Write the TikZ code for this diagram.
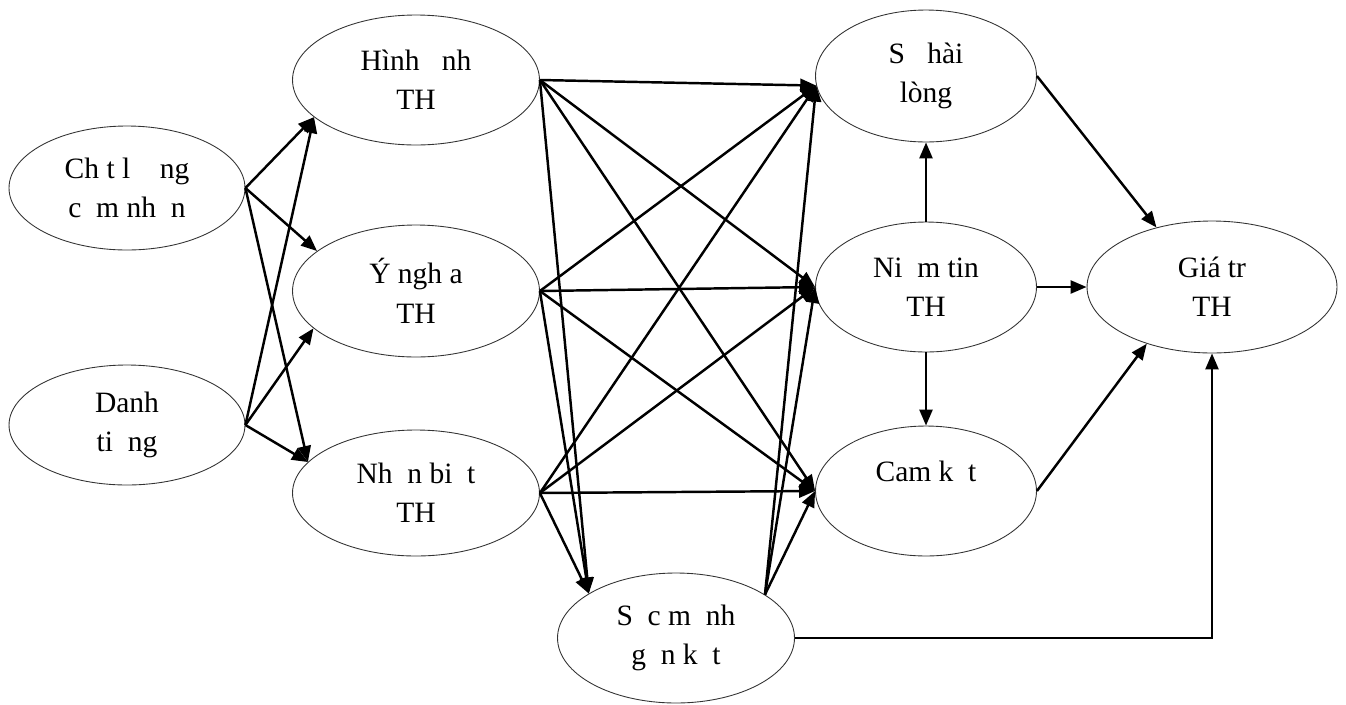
\documentclass[tikz,border=0pt]{standalone}
\usepackage{fontspec}
\setmainfont{Liberation Serif}
\usetikzlibrary{arrows.meta,shapes.geometric}

\begin{document}
\begin{tikzpicture}[x=0.02cm,y=-0.02cm,
  construct/.style={draw=black!80,ellipse,line width=0.5pt,inner sep=0pt,
    align=center,font=\fontsize{16.8}{22.4}\selectfont},
  link/.style={-{Triangle[length=0.32cm,width=0.26cm]},line width=1.4pt}]
\useasboundingbox (0,0) rectangle (1346,704);
\node[construct,minimum width=4.72cm,minimum height=2.48cm] (quality) at (127,188)
  {Ch~t~l~~~~ng\\c~~m~nh~~n};
\node[construct,minimum width=4.72cm,minimum height=2.4cm] (reputation) at (127,425)
  {Danh\\ti~~ng};
\node[construct,minimum width=4.94cm,minimum height=2.6cm] (image) at (416,80)
  {Hình~~~nh\\TH};
\node[construct,minimum width=4.94cm,minimum height=2.64cm] (meaning) at (416,291)
  {Ý ngh~a\\TH};
\node[construct,minimum width=4.94cm,minimum height=2.52cm] (awareness) at (416,493)
  {Nh~~n bi~~t\\TH};
\node[construct,minimum width=4.74cm,minimum height=2.6cm] (bond) at (676,638)
  {S~~c~m~~nh\\g~~n~k~~t};
\node[construct,minimum width=4.42cm,minimum height=2.64cm] (satisfaction) at (926,76)
  {S~~~hài\\lòng};
\node[construct,minimum width=4.42cm,minimum height=2.6cm] (trust) at (926,287)
  {Ni~~m tin\\TH};
\node[construct,minimum width=4.42cm,minimum height=2.6cm] (commitment) at (926,491)
  {Cam k~~t\\~};
\node[construct,minimum width=5cm,minimum height=2.64cm] (value) at (1212,287)
  {Giá tr\\TH};
% antecedents
\draw[link] (quality.east) -- (image.200);
\draw[link] (quality.east) -- (meaning.158);
\draw[link] (quality.east) -- (awareness.164);
\draw[link] (reputation.east) -- (image.200);
\draw[link] (reputation.east) -- (meaning.200);
\draw[link] (reputation.east) -- (awareness.164);
% brand dimensions
\draw[link] (image.east) -- (satisfaction.185);
\draw[link] (image.east) -- (trust.west);
\draw[link] (image.east) -- (commitment.west);
\draw[link] (image.east) -- (bond.153);
\draw[link] (meaning.east) -- (satisfaction.185);
\draw[link] (meaning.east) -- (trust.west);
\draw[link] (meaning.east) -- (commitment.west);
\draw[link] (meaning.east) -- (bond.153);
\draw[link] (awareness.east) -- (satisfaction.185);
\draw[link] (awareness.east) -- (trust.west);
\draw[link] (awareness.east) -- (commitment.west);
\draw[link] (awareness.east) -- (bond.153);
\draw[link] (bond.26) -- (satisfaction.185);
\draw[link] (bond.26) -- (trust.west);
\draw[link] (bond.26) -- (commitment.west);
% outcomes
\draw[link] (trust.north) -- (satisfaction.south);
\draw[link] (trust.south) -- (commitment.north);
\draw[link] (satisfaction.east) -- (value.133);
\draw[link] (trust.east) -- (value.west);
\draw[link] (commitment.east) -- (value.221);
\draw[link] (bond.east) -| (value.south);
\end{tikzpicture}
\end{document}
